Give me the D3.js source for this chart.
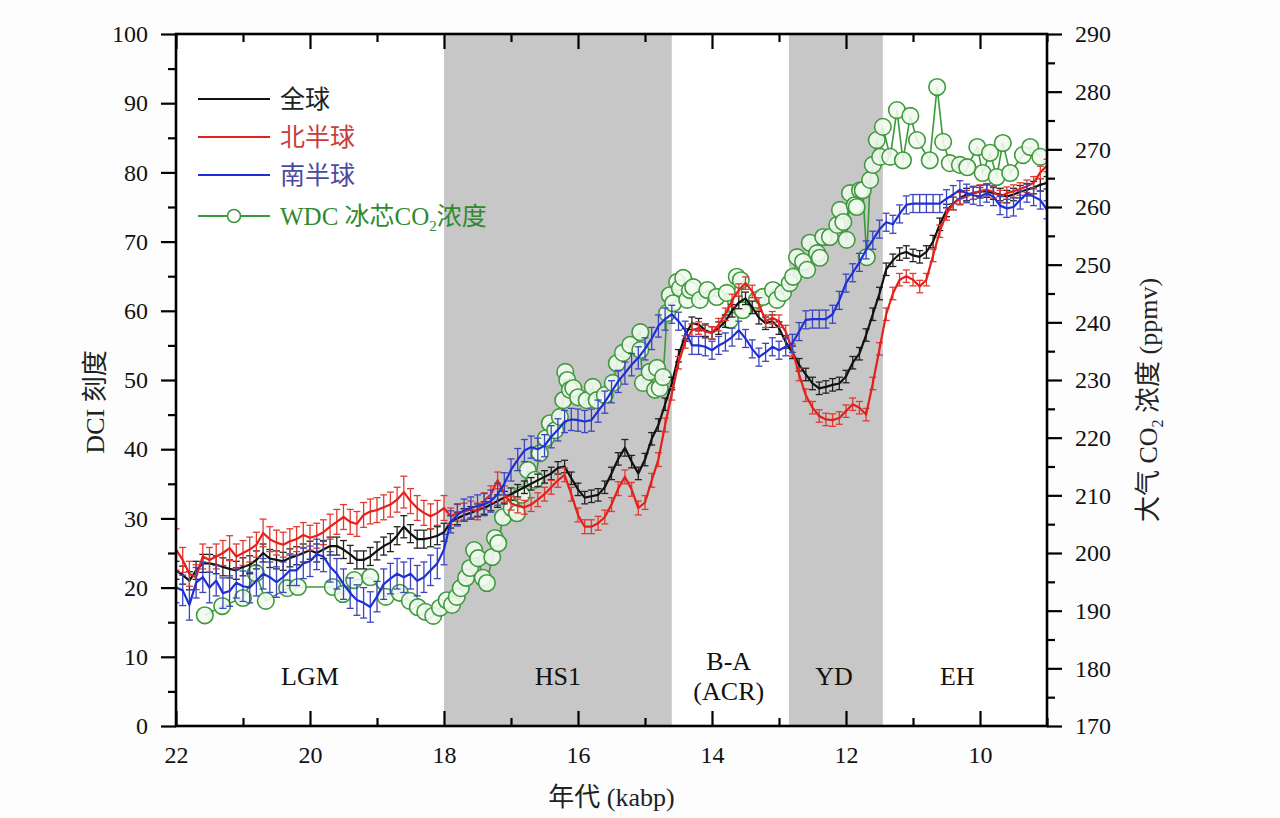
<!DOCTYPE html>
<html>
<head>
<meta charset="utf-8">
<script src="https://cdn.jsdelivr.net/npm/d3@7"></script>
<style>
  html, body { margin: 0; padding: 0; background: #fdfdfd; }
  svg { display: block; }
  text { font-family: "Liberation Serif", "Noto Sans CJK SC", serif; }
</style>
</head>
<body>
<svg id="chart" width="1280" height="818"></svg>
<script>
// ---------------- DATA ----------------
const ages = [
  22.0,21.9,21.8,21.7,21.6,21.5,21.4,21.3,21.2,21.1,
  21.0,20.9,20.8,20.7,20.6,20.5,20.4,20.3,20.2,20.1,
  20.0,19.9,19.8,19.7,19.6,19.5,19.4,19.3,19.2,19.1,
  19.0,18.9,18.8,18.7,18.6,18.5,18.4,18.3,18.2,18.1,
  18.0,17.9,17.8,17.7,17.6,17.5,17.4,17.3,17.2,17.1,
  17.0,16.9,16.8,16.7,16.6,16.5,16.4,16.3,16.2,16.1,
  16.0,15.9,15.8,15.7,15.6,15.5,15.4,15.3,15.2,15.1,
  15.0,14.9,14.8,14.7,14.6,14.5,14.4,14.3,14.2,14.1,
  14.0,13.9,13.8,13.7,13.6,13.5,13.4,13.3,13.2,13.1,
  13.0,12.9,12.8,12.7,12.6,12.5,12.4,12.3,12.2,12.1,
  12.0,11.9,11.8,11.7,11.6,11.5,11.4,11.3,11.2,11.1,
  11.0,10.9,10.8,10.7,10.6,10.5,10.4,10.3,10.2,10.1,
  10.0,9.9,9.8,9.7,9.6,9.5,9.4,9.3,9.2,9.1,
  9.0
];

// 全球 (global DCI)
const globalDCI = [
  22.5,21.8,21.0,22.5,23.5,23.5,23.3,23.0,22.7,22.5,
  23.0,23.3,24.0,25.0,24.2,24.0,23.8,24.3,24.6,25.0,
  25.4,25.0,25.5,26.0,26.0,25.5,24.8,24.0,24.0,24.5,
  25.3,26.0,26.5,27.5,28.8,27.8,27.0,27.0,27.2,27.5,
  28.0,29.5,30.0,30.5,30.8,31.2,31.5,32.0,32.5,33.0,
  33.5,34.0,34.5,35.0,35.5,36.0,36.5,37.3,37.5,35.8,
  34.2,33.0,33.2,33.4,34.5,36.5,38.6,40.2,38.2,36.5,
  38.5,41.5,43.5,46.5,49.5,53.5,56.5,58.2,58.0,57.2,
  56.8,57.5,58.5,60.0,61.2,61.8,60.5,59.0,58.2,58.5,
  57.5,55.5,54.0,52.2,50.8,49.5,48.8,49.0,49.3,49.5,
  50.5,52.5,53.8,56.5,59.5,62.5,66.0,67.3,68.2,68.5,
  68.0,67.8,68.5,70.0,72.5,74.5,75.5,76.3,76.8,77.0,
  77.2,77.3,77.0,76.8,76.5,76.8,77.2,77.5,77.8,78.2,
  78.5
];
const globalErr = [
  1.3,1.3,1.3,1.3,1.3,1.3,1.3,1.3,1.3,1.3,
  1.3,1.3,1.3,1.3,1.3,1.3,1.3,1.3,1.3,1.3,
  1.3,1.3,1.3,1.3,1.3,1.3,1.3,1.3,1.3,1.3,
  1.3,1.3,1.3,1.3,1.6,1.3,1.3,1.3,1.3,1.3,
  1.3,0.9,0.9,0.9,0.9,0.9,0.9,0.9,0.9,0.9,
  0.9,0.9,0.9,0.9,0.9,0.9,0.9,0.9,0.9,0.9,
  0.9,0.9,0.9,0.9,0.9,0.9,0.9,1.2,0.9,0.9,
  0.9,0.9,0.9,0.9,0.9,0.9,0.9,0.9,0.9,0.9,
  0.9,0.9,0.9,0.9,0.9,0.9,0.9,0.9,0.9,0.9,
  0.9,0.9,0.9,0.9,0.9,0.9,0.9,0.9,0.9,0.9,
  0.9,0.9,0.9,0.9,0.9,0.9,0.9,0.9,0.9,0.9,
  0.9,0.9,0.9,0.9,0.9,0.9,0.9,0.9,0.9,0.9,
  0.9,0.9,0.9,0.9,0.9,0.9,0.9,0.9,0.9,0.9,
  0.9
];

// 北半球 (Northern Hemisphere DCI)
const nhDCI = [
  25.5,24.0,22.0,21.5,24.5,24.0,24.5,25.0,25.7,24.5,
  25.0,25.5,26.2,27.9,27.0,26.5,26.2,26.7,27.0,27.6,
  27.2,27.5,28.0,28.8,29.5,30.2,29.5,29.2,30.5,31.0,
  31.2,31.6,32.0,32.7,33.8,32.5,31.5,30.8,30.3,30.8,
  31.5,30.3,30.8,31.0,31.3,31.0,32.5,33.5,35.5,33.5,
  32.2,31.8,31.6,32.0,32.7,33.5,34.5,35.5,36.3,33.5,
  30.5,28.8,28.8,29.3,30.2,32.0,34.3,36.0,34.2,31.5,
  32.3,35.5,38.5,43.5,48.0,52.5,55.5,57.2,57.5,57.0,
  56.8,58.0,59.5,61.5,63.0,64.0,62.8,61.0,58.5,59.0,
  58.5,57.0,54.3,50.8,47.8,46.0,44.8,44.3,44.2,44.5,
  45.5,46.5,46.0,45.0,49.5,54.5,59.5,62.5,64.5,65.0,
  64.5,63.5,64.5,68.0,71.5,74.0,75.5,76.2,76.5,77.0,
  77.3,77.5,77.2,76.5,77.0,77.3,77.6,78.0,78.5,80.0,
  81.0
];
const nhErr = [
  3.0,1.8,1.8,1.8,1.8,1.8,1.8,1.8,1.8,1.8,
  1.8,1.8,1.8,2.0,1.8,1.8,1.8,1.8,1.8,1.8,
  1.8,1.8,1.8,1.8,1.8,1.8,1.8,1.8,1.8,1.8,
  1.8,1.8,1.8,1.8,2.3,1.8,1.8,1.8,1.8,1.8,
  1.8,1.2,1.2,1.2,1.2,1.2,1.2,1.2,1.2,1.2,
  1.0,1.0,1.0,1.0,1.0,1.0,1.0,1.0,1.0,1.0,
  1.0,1.0,1.0,1.0,1.0,1.0,1.0,1.0,1.0,1.0,
  1.0,1.0,1.0,1.0,0.9,0.9,0.9,0.9,0.9,0.9,
  0.9,0.9,0.9,0.9,0.9,0.9,0.9,0.9,0.9,0.9,
  0.9,0.9,0.9,0.9,0.9,0.9,0.9,0.9,0.9,0.9,
  0.9,0.9,0.9,0.9,0.9,0.9,0.9,0.9,0.9,0.9,
  0.9,0.9,0.9,0.9,0.9,0.9,0.9,0.9,0.9,0.9,
  0.9,0.9,0.9,0.9,0.9,0.9,0.9,0.9,0.9,0.9,
  0.9
];

// 南半球 (Southern Hemisphere DCI)
const shDCI = [
  20.0,19.6,17.5,20.7,21.5,20.0,21.0,19.2,19.5,20.7,
  20.2,20.0,21.0,22.0,21.5,20.8,21.5,22.5,22.5,23.5,
  23.8,24.8,24.5,23.0,22.0,20.5,19.2,18.2,17.8,17.2,
  18.7,20.5,21.3,22.0,21.5,22.0,21.0,21.5,22.5,23.5,
  25.5,29.5,30.5,31.2,31.5,31.8,32.0,32.5,33.5,35.0,
  37.0,38.5,39.8,40.3,40.0,40.5,41.8,42.8,44.0,44.3,
  44.2,44.0,44.2,45.5,46.8,48.3,49.8,51.0,52.2,53.2,
  54.5,56.0,57.8,58.8,59.5,58.5,57.2,55.0,55.0,54.8,
  54.3,55.0,55.5,56.2,57.2,56.0,54.5,53.3,54.0,54.8,
  54.3,54.8,55.3,57.0,58.7,58.8,58.8,58.8,59.5,61.5,
  64.0,65.5,67.0,68.8,70.2,71.8,72.8,72.5,74.0,75.3,
  75.5,75.5,75.5,75.5,75.5,76.2,76.8,77.5,77.0,76.7,
  76.5,77.0,76.5,75.2,74.8,75.0,76.0,77.0,76.5,76.0,
  74.6
];
const shErr = [
  2.2,2.2,2.2,2.2,2.2,2.2,2.2,2.2,2.2,2.2,
  2.2,2.2,2.2,2.2,2.2,2.2,2.2,2.2,2.2,2.2,
  2.2,2.2,2.2,2.2,2.2,2.2,2.2,2.2,2.2,2.2,
  2.2,2.2,2.2,2.2,2.2,2.2,2.2,2.2,2.2,2.2,
  2.2,1.6,1.6,1.6,1.6,1.6,1.6,1.6,1.6,1.6,
  1.6,1.6,1.6,1.6,1.6,1.6,1.6,1.6,1.6,1.6,
  1.6,1.6,1.6,1.6,1.6,1.6,1.6,1.6,1.6,1.6,
  1.6,1.6,1.6,1.6,1.3,1.3,1.3,1.3,1.3,1.3,
  1.3,1.3,1.3,1.3,1.3,1.3,1.3,1.3,1.3,1.3,
  1.3,1.3,1.3,1.3,1.3,1.3,1.3,1.3,1.3,1.3,
  1.3,1.3,1.3,1.3,1.3,1.3,1.3,1.3,1.3,1.3,
  1.3,1.3,1.3,1.3,1.3,1.3,1.3,1.3,1.3,1.3,
  1.3,1.3,1.3,1.3,1.3,1.3,1.3,1.3,1.3,1.3,
  1.3
];

// WDC 冰芯 CO2 浓度 (ppmv)
const co2Age = [
  21.57,21.31,21.00,20.81,20.66,20.34,20.18,19.66,19.51,19.34,
  19.10,18.87,18.66,18.51,18.39,18.28,18.16,18.06,17.96,17.88,
  17.81,17.75,17.67,17.61,17.55,17.49,17.42,17.36,17.28,17.24,
  17.19,17.12,16.99,16.91,16.84,16.75,16.64,16.57,16.48,16.42,
  16.34,16.27,16.22,16.19,16.16,16.12,16.07,16.00,15.87,15.78,
  15.72,15.60,15.48,15.42,15.33,15.22,15.07,15.07,15.03,14.93,
  14.85,14.82,14.78,14.73,14.67,14.63,14.58,14.52,14.48,14.43,
  14.37,14.33,14.28,14.18,14.07,13.93,13.78,13.73,13.63,13.57,
  13.54,13.33,13.24,13.09,13.03,12.94,12.84,12.79,12.73,12.64,
  12.58,12.54,12.43,12.39,12.34,12.24,12.13,12.09,12.04,11.99,
  11.94,11.87,11.84,11.79,11.75,11.69,11.64,11.60,11.54,11.49,
  11.45,11.34,11.24,11.15,11.04,10.94,10.75,10.64,10.55,10.45,
  10.30,10.19,10.04,9.96,9.85,9.75,9.66,9.55,9.36,9.25,
  9.10
];
const co2Value = [
  189.2,190.8,192.2,196.5,191.7,193.9,194.1,194.1,192.9,195.3,
  195.8,192.4,193.1,191.7,190.6,189.8,189.1,190.5,191.8,191.0,
  192.4,193.9,195.7,197.4,200.5,199.1,195.7,194.8,199.3,202.6,
  201.7,206.2,207.8,206.9,210.1,214.4,212.7,217.3,219.9,222.5,
  221.3,223.6,226.5,231.4,230.0,228.3,228.6,227.0,226.5,228.8,
  226.5,227.4,229.5,232.9,234.7,236.1,238.3,235.2,229.5,231.4,
  228.3,232.1,228.6,230.5,241.6,244.7,243.3,247.0,245.9,247.7,
  243.9,245.6,246.1,243.9,245.6,244.4,245.1,240.4,247.9,247.3,
  242.1,243.9,244.4,245.6,243.9,245.1,246.8,247.9,251.3,250.5,
  249.1,253.8,252.0,251.2,254.8,254.8,256.9,259.5,257.4,254.3,
  262.4,260.3,260.0,262.9,262.9,251.3,264.7,267.3,271.6,268.7,
  273.9,268.7,276.8,268.1,275.8,271.6,268.1,280.8,271.3,267.6,
  267.3,266.9,270.4,265.9,269.4,265.2,271.1,265.9,269.0,270.4,
  268.7
];

// Axis ticks
const xMajorTicks = [22, 20, 18, 16, 14, 12, 10];
const xMinorTicks = [21, 19, 17, 15, 13, 11, 9];
const leftMajorTicks = [0, 10, 20, 30, 40, 50, 60, 70, 80, 90, 100];
const leftMinorTicks = [5, 15, 25, 35, 45, 55, 65, 75, 85, 95];
const rightMajorTicks = [170, 180, 190, 200, 210, 220, 230, 240, 250, 260, 270, 280, 290];
const rightMinorTicks = [175, 185, 195, 205, 215, 225, 235, 245, 255, 265, 275, 285];

// Shaded periods and period labels
const shadeStart = [18.0, 12.85];
const shadeEnd = [14.6, 11.45];
const periodLabels = ["LGM", "HS1", "B-A", "(ACR)", "YD", "EH"];
const periodLabelAge = [20.0, 16.3, 13.75, 13.75, 12.18, 10.34];
const periodLabelRow = [0, 0, -1, 1, 0, 0];

// ---------------- CHART ----------------
const svg = d3.select("#chart");
const W = 1280, H = 818;
const plot = { left: 176, right: 1047, top: 34, bottom: 726 };

const x = d3.scaleLinear().domain([22, 9]).range([plot.left, plot.right]);
const yL = d3.scaleLinear().domain([0, 100]).range([plot.bottom, plot.top]);
const yR = d3.scaleLinear().domain([170, 290]).range([plot.bottom, plot.top]);

svg.append("rect").attr("width", W).attr("height", H).attr("fill", "#fdfdfd");
svg.append("rect")
  .attr("x", plot.left).attr("y", plot.top)
  .attr("width", plot.right - plot.left).attr("height", plot.bottom - plot.top)
  .attr("fill", "#ffffff");

// shaded bands
svg.append("g").selectAll("rect").data(shadeStart).join("rect")
  .attr("x", (d) => x(d))
  .attr("y", plot.top)
  .attr("width", (d, i) => x(shadeEnd[i]) - x(d))
  .attr("height", plot.bottom - plot.top)
  .attr("fill", "#c7c7c7");

// clip
svg.append("clipPath").attr("id", "clip").append("rect")
  .attr("x", plot.left).attr("y", plot.top)
  .attr("width", plot.right - plot.left).attr("height", plot.bottom - plot.top);

const gData = svg.append("g").attr("clip-path", "url(#clip)");

// CO2 series
const co2Pts = co2Age.map((a, i) => [a, co2Value[i]]);
gData.append("path")
  .datum(co2Pts)
  .attr("fill", "none")
  .attr("stroke", "#3a9a3a")
  .attr("stroke-width", 1.6)
  .attr("d", d3.line().x((d) => x(d[0])).y((d) => yR(d[1])));
gData.append("g").selectAll("circle").data(co2Pts).join("circle")
  .attr("cx", (d) => x(d[0]))
  .attr("cy", (d) => yR(d[1]))
  .attr("r", 8.3)
  .attr("fill", "#f1faef")
  .attr("fill-opacity", 0.88)
  .attr("stroke", "#3f9a3f")
  .attr("stroke-width", 1.6);

function drawSeries(vals, errs, color, barColor) {
  const pts = ages.map((a, i) => ({ a: a, v: vals[i], e: errs[i] || 0 }));
  const g = gData.append("g");
  const eb = g.append("g").attr("stroke", barColor).attr("stroke-width", 1.3).attr("fill", "none");
  pts.forEach((p) => {
    const cx = x(p.a);
    const y1 = yL(p.v - p.e), y2 = yL(p.v + p.e);
    eb.append("line").attr("x1", cx).attr("x2", cx).attr("y1", y1).attr("y2", y2);
    eb.append("line").attr("x1", cx - 3.5).attr("x2", cx + 3.5).attr("y1", y1).attr("y2", y1);
    eb.append("line").attr("x1", cx - 3.5).attr("x2", cx + 3.5).attr("y1", y2).attr("y2", y2);
  });
  g.append("path")
    .datum(pts)
    .attr("fill", "none")
    .attr("stroke", color)
    .attr("stroke-width", 2.2)
    .attr("stroke-linejoin", "round")
    .attr("d", d3.line().x((d) => x(d.a)).y((d) => yL(d.v)));
}
drawSeries(globalDCI, globalErr, "#111111", "#222222");
drawSeries(nhDCI, nhErr, "#e3201b", "#e23a30");
drawSeries(shDCI, shErr, "#1f2fd6", "#3b45c0");

// ---------------- AXES ----------------
const axisFont = "24px";
function styleAxis(g) {
  g.select(".domain").remove();
  g.selectAll("line").attr("stroke", "#000").attr("stroke-width", 2.2);
  g.selectAll("text").attr("font-size", axisFont).attr("fill", "#111")
    .attr("font-family", "'Liberation Serif', serif");
}

// bottom (inward ticks)
svg.append("g").attr("transform", `translate(0,${plot.bottom})`)
  .call(d3.axisBottom(x).tickValues(xMinorTicks).tickSize(-8).tickFormat(""))
  .call(styleAxis);
svg.append("g").attr("transform", `translate(0,${plot.bottom})`)
  .call(d3.axisBottom(x).tickValues(xMajorTicks).tickSize(-15).tickPadding(20).tickFormat(d3.format("d")))
  .call(styleAxis);
// top (inward ticks)
svg.append("g").attr("transform", `translate(0,${plot.top})`)
  .call(d3.axisTop(x).tickValues(xMinorTicks).tickSize(-8).tickFormat(""))
  .call(styleAxis);
svg.append("g").attr("transform", `translate(0,${plot.top})`)
  .call(d3.axisTop(x).tickValues(xMajorTicks).tickSize(-15).tickFormat(""))
  .call(styleAxis);
// left (outward)
svg.append("g").attr("transform", `translate(${plot.left},0)`)
  .call(d3.axisLeft(yL).tickValues(leftMinorTicks).tickSize(8).tickFormat(""))
  .call(styleAxis);
svg.append("g").attr("transform", `translate(${plot.left},0)`)
  .call(d3.axisLeft(yL).tickValues(leftMajorTicks).tickSize(15).tickPadding(13).tickFormat(d3.format("d")))
  .call(styleAxis);
// right (outward)
svg.append("g").attr("transform", `translate(${plot.right},0)`)
  .call(d3.axisRight(yR).tickValues(rightMinorTicks).tickSize(8).tickFormat(""))
  .call(styleAxis);
svg.append("g").attr("transform", `translate(${plot.right},0)`)
  .call(d3.axisRight(yR).tickValues(rightMajorTicks).tickSize(15).tickPadding(13).tickFormat(d3.format("d")))
  .call(styleAxis);

// frame
svg.append("rect")
  .attr("x", plot.left).attr("y", plot.top)
  .attr("width", plot.right - plot.left).attr("height", plot.bottom - plot.top)
  .attr("fill", "none").attr("stroke", "#000").attr("stroke-width", 2.6);

// axis titles
svg.append("text")
  .attr("x", (plot.left + plot.right) / 2 + 0).attr("y", 806)
  .attr("text-anchor", "middle").attr("font-size", "26px").attr("fill", "#222")
  .text("年代 (kabp)");

svg.append("text")
  .attr("transform", "translate(104,402) rotate(-90)")
  .attr("text-anchor", "middle").attr("font-size", "26px").attr("fill", "#222")
  .text("DCI 刻度");

const rt = svg.append("text")
  .attr("transform", "translate(1157,400) rotate(-90)")
  .attr("text-anchor", "middle").attr("font-size", "26px").attr("fill", "#222");
rt.append("tspan").text("大气 CO");
rt.append("tspan").attr("font-size", "16px").attr("dy", 6).text("2");
rt.append("tspan").attr("dy", -6).text(" 浓度 (ppmv)");

// period labels
svg.append("g").selectAll("text").data(periodLabels).join("text")
  .attr("x", (d, i) => x(periodLabelAge[i]))
  .attr("y", (d, i) => 685 + periodLabelRow[i] * 15)
  .attr("text-anchor", "middle")
  .attr("font-size", "26px")
  .attr("fill", "#111")
  .attr("font-family", "'Liberation Serif', serif")
  .text((d) => d);

// ---------------- LEGEND ----------------
const legendNames = ["全球", "北半球", "南半球"];
const legendLine = ["#111111", "#e3201b", "#1f2fd6"];
const legendText = ["#222222", "#c83c3c", "#4a4aa0"];
const legendY = [99, 137, 175];
const lg = svg.append("g");
legendNames.forEach((n, i) => {
  lg.append("line").attr("x1", 198).attr("x2", 270).attr("y1", legendY[i]).attr("y2", legendY[i])
    .attr("stroke", legendLine[i]).attr("stroke-width", 2.2);
  lg.append("text").attr("x", 280).attr("y", legendY[i] + 9)
    .attr("font-size", "25px").attr("fill", legendText[i]).text(n);
});
lg.append("line").attr("x1", 198).attr("x2", 270).attr("y1", 216).attr("y2", 216)
  .attr("stroke", "#3a9a3a").attr("stroke-width", 2.2);
lg.append("circle").attr("cx", 234).attr("cy", 216).attr("r", 6.5)
  .attr("fill", "#ffffff").attr("stroke", "#3a9a3a").attr("stroke-width", 1.6);
const wt = lg.append("text").attr("x", 280).attr("y", 225)
  .attr("font-size", "25px").attr("fill", "#2f8a2f");
wt.append("tspan").text("WDC 冰芯CO");
wt.append("tspan").attr("font-size", "15px").attr("dy", 6).text("2");
wt.append("tspan").attr("dy", -6).text("浓度");
</script>
</body>
</html>
